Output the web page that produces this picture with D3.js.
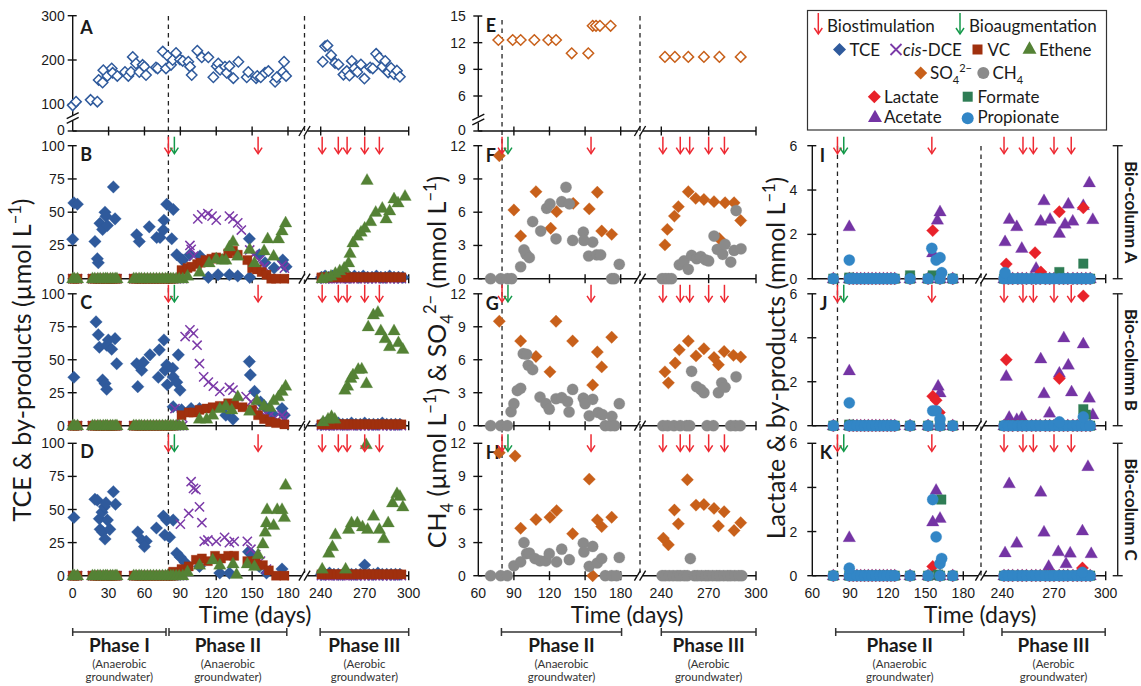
<!DOCTYPE html>
<html><head><meta charset="utf-8">
<script src="https://cdn.jsdelivr.net/npm/d3@7"></script>
<style>
html,body{margin:0;padding:0;background:#fff;}
svg{display:block;}
</style></head><body>
<svg id="chart" width="1141" height="686"></svg>
<script>
// ---------------- data ----------------
const biostimulationDays = [80, 155, 241, 252, 258, 270, 280];
const bioaugmentationDays = [85];
const phaseStartDay = 80;

const xTicksCol1 = [0, 30, 60, 90, 120, 150, 180, 240, 270, 300];
const xTicksCol23 = [60, 90, 120, 150, 180, 240, 270, 300];
const yTicksInfTCE = [0, 100, 200, 300];
const yTicksInfSulfate = [0, 6, 9, 12, 15];
const yTicksChlor = [0, 25, 50, 75, 100];
const yTicksSulfMeth = [0, 3, 6, 9, 12];
const yTicksAcids = [0, 2, 4, 6];

// sampling days with non-detect results (value 0)
const effDaysI = [0, 1.5, 4, 16.5, 18.5, 21, 23, 25.5, 27.5, 29, 31.5, 33.5, 35.5, 37, 51, 53, 55.5, 57.5, 60, 62.5, 65, 67.5, 70, 72.5, 75, 77.5];
const effDaysIIearly = [79.5, 82, 84, 86.5, 89, 92];
const effDaysIII = [240.5, 242.5, 244.5, 246.5, 249, 251, 253.5, 256, 258, 260, 262.5, 265, 267.5, 270, 272.5, 275, 277.5, 280, 282.5, 285, 287.5, 290, 292.5, 295];
const acidDaysII = [76.7, 89.4, 92.5, 95.5, 98.5, 101.5, 104.5, 107.5, 110.5, 113.5, 116.5, 119.5, 122.5, 125.5, 137.7, 152, 161.5, 171.6];
const acidDaysIII = [241, 243.5, 246, 249, 251.5, 254, 257, 259.5, 262, 265, 267.5, 270, 273, 275.5, 278, 281, 283.5, 286, 288.5, 291];

// Panel A: influent TCE (µmol/L)
const influentTCE = [[0,96],[2.8,106],[15,110],[20.6,106],[21.7,155],[25,149],[25.6,177],[29,164],[32.6,181],[33.4,171],[37.3,164],[43.7,173],[46.5,164],[48.7,173],[50.2,207],[52.9,192],[55.7,173],[58.5,189],[59.9,185],[61.3,166],[69.6,183],[71,181],[75.3,219],[78,181],[79.4,209],[82.2,189],[83.6,200],[86.4,216],[89.7,201],[92,198],[96.7,196],[98.1,185],[99.5,166],[104.2,221],[107.9,206],[113.4,206],[117.6,161],[120.4,186],[121.7,192],[123.2,178],[127.3,185],[128.7,171],[131,186],[134.3,159],[138.5,196],[145.5,161],[146.8,173],[153.3,159],[154.3,164],[157.2,161],[160.8,171],[163.6,175],[169.2,151],[170.6,161],[175.6,173],[176.7,196],[178.4,164],
  [241.4,196],[243,231],[244.6,233],[247.1,211],[249.8,193],[252.1,190],[255.5,167],[257.8,175],[259.6,165],[261.2,198],[263,181],[265,173],[267.4,190],[269.8,158],[273.7,183],[275.5,181],[277.8,214],[280,205],[282,185],[284,198],[286,172],[288,182],[290,168],[292,176],[294,162]];

// Panel B: Bio-column A, chlorinated ethenes (µmol/L)
const tceB = [[0,29.6],[1,57],[3.9,56],[18.6,28],[20.6,15],[21.4,12],[22.8,41.6],[25,37],[27,50],[27.8,47],[29,40],[34,69],[35.4,45],[53.5,33],[55.7,28],[64,39],[70.2,31],[73,31],[75.8,36.6],[76.3,44],[78.6,56],[82.8,30],[84.1,52],[87,18],[92,14],[98,18],[106.4,17],[113.4,1],[121.5,3],[131,3],[138,2],[147.7,30],[148,1],[156,18],[160.8,12],[168.4,8],[175.6,14],[178.4,9],
  [240.5,1],[243,2],[245.5,1],[248,2],[251,1],[254,2],[257,1],[260,1],[263,2],[266,1],[269,2],[272,1],[275,1],[278,2],[281,1],[284,1],[287,2],[290,1],[293,1],[296,1]];
const dceB = [[98,25],[99,22],[101,17],[104.6,45],[107.9,48],[113,49],[116.5,47],[120,44],[131,47],[134,45],[138,42],[141,36.6],[148,21.6],[151,18],[156,14],[160,9],[175,10],[177,8]];
const vcB = [[91,6.5],[96,8],[99,9],[104,11],[107,12],[111,14],[116,15],[120,16],[124,15],[130,19],[134,21],[138,18],[146,14],[150,8],[154,7],[158,5],[162,3],[166,0],[170,0],[177,0]];
const etheneB = [[96,2],[106,5],[114,12],[120,15],[125,14],[128,14],[131,24],[134,28],[138,17],[148,22],[152,12],[160,21],[163,30],[168,17],[172,30],[175,36],[178,42],
  [241,0],[244,1],[247,2],[250,4],[253,6],[256,8],[259,12],[260,19],[262,27],[265,32],[267.5,35],[270,38],[271.6,74],[274,43],[277.5,50],[282,53],[284.6,45],[287,51],[290,60],[292.7,57],[297.5,62]];

// Panel C: Bio-column B
const tceC = [[1,36.7],[19.5,78.7],[21.4,69],[22.3,59.5],[25,34.7],[27,32],[28.4,27.6],[28.4,61],[29.8,65],[32.6,58],[35.4,66],[36.8,47],[53.5,47],[54.4,29.6],[57.7,42],[59,48],[64.6,53.7],[71.6,36.7],[72.4,57.5],[76.3,65],[77.2,42],[78.6,46],[79.1,31],[83.6,43.6],[84,37],[88.3,53.7],[87,33],[89.7,27],[84,14.4],[91,12],[99,13],[106,13],[128,8],[134,5],[147.7,48.6],[148.5,38.5],[152,26],[157,18],[162,13],[167,9],[175,13],[177,8],[167,4],
  [240.5,1],[243,2],[246,1],[249,1],[252,2],[255,1],[258,1],[261,2],[264,1],[267,1],[270,2],[273,1],[276,1],[279,1],[282,2],[285,1],[288,1],[291,1],[294,1]];
const dceC = [[85.5,13],[91,7],[94,67.6],[98,72.7],[101,70],[104,61],[106,47],[109.5,37],[113.4,33],[117.6,30],[123,26],[131,29],[134,27],[145,22],[149,18],[156,12],[160,8],[164,7],[169,6],[175,8],[177,6]];
const vcC = [[91,8],[97,10],[101,10],[106,12],[112,13],[117,14],[123,15],[130,17],[135,16],[142,14],[150,12],[155,8],[160,5],[165,3],[170,2],[177,1]];
const etheneC = [[106,5],[112,5],[117,8],[123,13],[128,15],[133,12],[138,22],[148,11],[154,19],[160,15],[165,14],[168,19],[172,22],[175,26],[178,30],
  [241.6,3],[245,5],[247.4,7],[249.6,5],[256.5,27],[258.3,30],[260.5,36],[262,38.5],[265.6,42.7],[268,43],[271.2,32],[272.4,75],[275.9,84],[279,86],[281,72],[284,66],[287,60],[290,72],[293,63],[296,58]];

// Panel D: Bio-column C
const tceD = [[1,44],[18.6,57.7],[20.6,57],[22.3,43],[24.5,48],[26.5,52],[27.8,55],[23,35],[25,33],[27,27.7],[29,42],[31,35],[34,63.4],[35.8,54],[54.4,33],[57.7,27],[61.5,26],[60,22],[70,36],[75.8,45],[78.6,42],[77,30.7],[81,29],[84,42],[87,17],[90,14],[94,10],[106,7],[123,2],[131,2],[147,18],[150,16],[156,7],[162,2],[175,5],
  [240.5,1],[243,1],[246,2],[249,1],[252,1],[255,1],[258,2],[261,1],[264,1],[267,1],[270,8],[273,1],[276,1],[279,2],[282,1],[285,1],[288,1],[291,1],[294,1]];
const dceD = [[90,39],[97,47],[99,71],[101,66],[103,65],[106,52],[108,40],[110,26],[113,27],[120,26],[127,29],[131,25],[135,26],[146,26],[149,20],[153,16],[157,11],[162,5]];
const vcD = [[84,3],[91,5],[97,7],[103,12],[108,13],[113,11],[119,15],[124,13],[130,15],[135,15],[146,11],[153,11],[159,8],[164,4],[170,0],[177,0]];
const etheneD = [[96,3],[106,8],[117,12],[123,8],[134,9],[137,1],[146,9],[152,7],[155,16],[159,24],[161,33],[162,40],[162.5,50],[168,38],[171,50],[175,50],[177,44],[178,68.5],
  [241,5],[245.5,17],[248,22],[250,31],[257,5],[259,35],[261,40],[265,40],[268.5,37],[271,99],[272,35],[276,45],[280,35],[283,28],[286,40],[289,55],[292,62],[294,60],[296,52]];

// Panel E: influent sulfate (mmol/L)
const influentSulfate = [[76.9,12.3],[89,12.3],[95.7,12.3],[107.2,12.3],[119,12.3],[125.5,12.3],[138.7,10.8],[152.7,10.8],[156.4,13.9],[159.2,13.9],[162.5,13.9],[171.5,13.9],[242.3,10.4],[248.6,10.4],[257.1,10.4],[267,10.4],[276.8,10.4],[290.3,10.4]];

// Panels F-H: sulfate (mmol/L) and methane (µmol/L)
const sulfateF = [[77.7,11.1],[90,6.2],[95.7,3.85],[108.6,7.85],[121,4.55],[126,6.05],[140,6.8],[153.5,6.3],[160.3,7.8],[164,4.3],[172.4,4.0],[242.3,3.05],[243.8,4.45],[248.3,5.65],[250.8,6.5],[257.1,7.85],[261.8,7.25],[267,7.15],[273.4,6.95],[276.8,3.6],[280.4,6.85],[286.1,6.85],[290.3,5.25]];
const methaneF = [[70.4,0],[78.9,0],[84.5,0],[88.1,0],[95.7,1.08],[98.5,2.6],[100.2,2.2],[103,1.9],[105.8,5.15],[112.6,4.3],[117.6,6.35],[120.4,6.75],[125.5,3.6],[130.3,6.95],[133.9,8.25],[136.7,6.75],[139.5,3.45],[148.5,4.2],[149,3.45],[153,2.05],[156.4,3.3],[159.7,2.15],[163.1,2.15],[172.4,0],[174.6,0],[178.8,1.3],
  [240.5,0],[242.5,0],[244.5,0],[246.5,0],[251.4,1.25],[254.4,1.6],[257.1,0.85],[259.2,2.1],[262.4,1.8],[265,2.0],[267.9,1.7],[270,1.6],[273.4,3.85],[275.5,2.65],[278.9,2.2],[280.4,3.1],[284,1.5],[286.1,2.55],[287.4,6.15],[290.5,2.7]];
const sulfateG = [[77.7,9.5],[95.7,7.7],[108.6,6.3],[120.4,4.9],[125.5,9.5],[139.5,7.7],[156.4,3.7],[160.3,6.7],[164,5.35],[172.4,8.05],[242.3,4.9],[244.5,3.9],[248.8,5.7],[251.4,6.9],[257.1,7.7],[262,6.35],[267,7.0],[273.4,6.2],[276.2,5.55],[279.8,6.75],[285.7,6.4],[290.3,6.25]];
const methaneG = [[70.4,0],[78.9,0],[84.5,0],[87.6,1.27],[90,2.0],[92.9,3.2],[95.7,3.4],[97.9,6.55],[100.7,6.5],[102.1,5.5],[105.8,5.1],[112,2.6],[117,2.0],[119.8,1.5],[125.5,2.45],[130.3,2.55],[135.2,2.2],[136.5,1.25],[139.5,3.3],[148.5,2.5],[150,2.0],[153.5,0.9],[156.4,2.4],[161,1.2],[164.7,1.0],[167,0],[171.5,0],[172.6,0.85],[175,0],[178.8,2.0],
  [241,0],[244,0],[248,0],[252,0],[256,0],[258,0],[259.2,4.95],[262.4,3.55],[265,3.3],[267,3.0],[269,0],[273,0],[276.2,3.0],[278.3,3.9],[280.4,3.5],[284,0],[287.4,4.45],[287,0],[290,0]];
const sulfateH = [[77.7,11.15],[91,10.85],[95.7,4.3],[108.6,5.1],[120.4,5.3],[126,5.9],[139.5,3.8],[153.5,8.75],[156.4,0],[160.3,5.05],[164,4.45],[172.4,5.3],[241.3,3.4],[244.5,2.8],[248.3,5.95],[250.8,4.7],[256.5,8.7],[262,6.4],[267,6.45],[273.4,6.1],[276.2,4.5],[279.8,5.8],[286.1,4.1],[290.3,4.8]];
const methaneH = [[70.4,0],[78.9,0],[84.5,0],[90,0.9],[95.7,1.25],[98.5,3.0],[100.7,2.0],[103,2.05],[107.8,1.55],[112,1.35],[117,1.35],[119.8,2.0],[126,1.25],[130.3,2.4],[136.7,1.45],[148.5,2.95],[149,2.15],[153.5,0.85],[156.4,2.65],[160.3,1.15],[164,1.55],[167,0],[172.4,0],[176.5,0],[178.8,1.65],
  [240.5,0],[242.5,0],[245,0],[247.5,0],[250,0],[252,0],[254.5,0],[256.5,0],[258.4,1.55],[261,0],[263,0],[265.5,0],[268,0],[270,0],[272.5,0],[275,0],[277,0],[279.5,0],[282,0],[284,0],[286.5,0],[289,0],[291,0]];

// Panels I-K: lactate and fermentation products (mmol/L), non-zero results
const acetateI = [[89.4,2.35],[155.7,1.17],[159.4,2.65],[161.5,3.02],[241.6,1.67],[244.1,2.68],[248.4,2.35],[251.3,1.37],[259.6,0.47],[262.3,2.6],[264.2,3.52],[267.7,2.68],[273.1,2.05],[276.4,2.47],[278.3,3.37],[280.9,2.6],[287,3.3],[290.5,4.33],[292.5,2.67]];
const lactateI = [[155.7,2.17],[242.3,0.66],[259,1.17],[262.4,0.3],[273.1,3.02],[287,3.2]];
const formateI = [[89.4,0.05],[137.7,0.15],[155.7,0.15],[273.1,0.3],[287,0.68]];
const propionateI = [[89.4,0.84],[155,1.37],[158.4,0.84],[161.5,0.95],[162.8,0.27],[241.6,0.27]];
const acetateJ = [[89.4,2.5],[160,1.8],[161.5,1.5],[242.3,2.25],[244,0.38],[248.4,0.28],[251.3,0.38],[262.3,3.04],[264.2,1.46],[267.4,0.58],[273.1,2.39],[275.7,4.0],[278.3,2.76],[280.2,1.54],[287,3.72],[290.5,1.26],[292.5,0.5]];
const lactateJ = [[155.7,1.34],[158.4,1.16],[161,0.6],[242.3,3.0],[273.1,2.15],[287,5.9]];
const formateJ = [[89.4,0.05],[287,0.75],[288.5,0.5]];
const propionateJ = [[89.4,1.04],[155.7,0.68],[158.4,0.68],[161.5,0.3],[273.1,0.17],[287,0.4]];
const acetateK = [[89.4,1.73],[155.7,2.44],[158.4,3.87],[161.5,2.6],[241.6,1.04],[244,4.17],[248.4,1.48],[262.3,3.79],[264.2,1.98],[266.9,0.42],[272.5,1.09],[277,0.55],[279.4,1.03],[286.5,2.03],[289.7,4.95],[291.6,1.0]];
const lactateK = [[155.7,0.42],[286.5,0.35]];
const formateK = [[162.5,3.45],[160,0.05]];
const propionateK = [[89.4,0.34],[155.7,3.45],[158.4,1.76],[161.5,0.55],[162.8,0.78],[286.5,0.15]];

// ---------------- drawing ----------------
const W = 1141, H = 686;
const FONT_TICK = "'Liberation Sans', Arial, sans-serif";
const FONT_TEXT = "Lato, 'Open Sans', sans-serif";
const TICK_SIZE = 14;
const C = {
  tce: "#2f5a9c", dce: "#7b3aa8", vc: "#a0300e", ethene: "#548235",
  sulfate: "#c8601a", methane: "#8a8a8a",
  lactate: "#e8222a", formate: "#2f7d55", acetate: "#7434a4", propionate: "#3286c6",
  bioStim: "#ee2a33", bioAug: "#14994a", axis: "#111"
};

const nd = days => days.map(d => [d, 0]);

const svg = d3.select("#chart");
svg.append("rect").attr("width", W).attr("height", H).attr("fill", "#fff");

// marker shapes (centered at origin)
const shapes = {
  diamond: r => `M0,${-r}L${r},0L0,${r}L${-r},0Z`,
  triangle: s => { const h = s * 0.88; return `M0,${-h * 0.62}L${s / 2},${h * 0.38}L${-s / 2},${h * 0.38}Z`; },
  square: a => `M${-a},${-a}h${2 * a}v${2 * a}h${-2 * a}Z`,
  cross: a => `M${-a},${-a}L${a},${a}M${a},${-a}L${-a},${a}`,
  circle: r => d3.symbol(d3.symbolCircle, Math.PI * r * r)()
};

// column geometry: piecewise time scales with the axis break between 180 and 240 d
const columns = [
  { x: d3.scaleLinear().domain([0, 180, 240, 300]).range([72.7, 288, 320.7, 408.7]), breakX: 304.5, ticks: xTicksCol1, labelGap: 8 },
  { x: d3.scaleLinear().domain([60, 180, 240, 300]).range([478.3, 620.7, 661.3, 756]), breakX: 640, ticks: xTicksCol23, labelGap: 12.5 },
  { x: d3.scaleLinear().domain([60, 180, 240, 300]).range([812.3, 963.3, 1002.3, 1105.7]), breakX: 981, ticks: xTicksCol23, labelGap: 15 }
];
const rowBands = [[278.7, 145.7], [425.7, 293.8], [575.7, 443.3]];

function drawAxes(g, x, y, o) {
  const xa = x.range()[0], xe = x(300), y0 = y(0);
  const ax = g.append("g").attr("stroke", C.axis).attr("stroke-width", 1.4).attr("fill", "none");
  // x axis with break
  ax.append("line").attr("x1", xa).attr("x2", o.breakX - 3).attr("y1", y0).attr("y2", y0);
  ax.append("line").attr("x1", o.breakX + 3).attr("x2", xe).attr("y1", y0).attr("y2", y0);
  [-2.6, 2.6].forEach(dx => ax.append("line")
    .attr("x1", o.breakX + dx - 3).attr("y1", y0 + 5).attr("x2", o.breakX + dx + 3).attr("y2", y0 - 5));
  o.xTicks.forEach(t => {
    if (t === x.domain()[0]) return;
    ax.append("line").attr("x1", x(t)).attr("x2", x(t)).attr("y1", y0 - 4.5).attr("y2", y0 + 4.5);
  });
  // y axis (optionally broken)
  const yTop = y(o.yTicks[o.yTicks.length - 1]);
  if (o.yBreak) {
    ax.append("line").attr("x1", xa).attr("x2", xa).attr("y1", y0).attr("y2", o.yBreak + 3);
    ax.append("line").attr("x1", xa).attr("x2", xa).attr("y1", o.yBreak - 3).attr("y2", yTop);
    [-2.4, 2.4].forEach(dy => ax.append("line")
      .attr("x1", xa - 6).attr("y1", o.yBreak + dy + 3).attr("x2", xa + 6).attr("y2", o.yBreak + dy - 3));
  } else {
    ax.append("line").attr("x1", xa).attr("x2", xa).attr("y1", y0).attr("y2", yTop);
  }
  o.yTicks.forEach(t => {
    ax.append("line").attr("x1", xa - 5).attr("x2", xa + 4).attr("y1", y(t)).attr("y2", y(t));
    // the zero label of a broken (top-row) axis sits a touch higher, clear of the panel below
    const ly = y(t) - (o.yBreak && t === 0 ? 1.3 : 0);
    g.append("text").attr("x", xa - o.labelGap).attr("y", ly).attr("dy", "0.36em")
      .attr("text-anchor", "end").attr("font-family", FONT_TICK).attr("font-size", TICK_SIZE)
      .attr("fill", "#1a1a1a").text(t);
  });
  if (o.xLabels) {
    o.xTicks.forEach(t => g.append("text").attr("x", x(t)).attr("y", 597.5)
      .attr("text-anchor", "middle").attr("font-family", FONT_TICK).attr("font-size", TICK_SIZE)
      .attr("fill", "#1a1a1a").text(t));
  }
  g.append("text").attr("x", xa + 7.5).attr("y", o.letterY).attr("font-family", FONT_TEXT)
    .attr("font-weight", 700).attr("font-size", 18).attr("fill", "#1a1a1a").text(o.letter);
}

function drawSeries(g, x, y, data, s) {
  const sel = g.append("g");
  data.forEach(([d, v]) => {
    const p = sel.append("path").attr("d", shapes[s.shape](s.size))
      .attr("transform", `translate(${x(d).toFixed(2)},${y(v).toFixed(2)})`);
    if (s.shape === "cross") p.attr("fill", "none").attr("stroke", s.color).attr("stroke-width", 1.5);
    else if (s.open) p.attr("fill", "#fff").attr("stroke", s.color).attr("stroke-width", 1.5);
    else p.attr("fill", s.color).attr("stroke", s.color).attr("stroke-opacity", 0.35).attr("stroke-width", 0.8);
  });
}

function drawArrow(g, x, yTip, color, len) {
  g.append("line").attr("x1", x).attr("x2", x).attr("y1", yTip - len).attr("y2", yTip - 0.5)
    .attr("stroke", color).attr("stroke-width", 1.5);
  g.append("path").attr("d", `M${x - 4},${yTip - 6}L${x},${yTip}L${x + 4},${yTip - 6}`)
    .attr("fill", "none").attr("stroke", color).attr("stroke-width", 1.5);
}

const gMain = svg.append("g");

// dashed lines: start of phase II and the time-axis break
const dashTops = [[16, 16], [20, 16], [146, 146]];
columns.forEach((col, i) => {
  [col.x(phaseStartDay), col.breakX].forEach((xx, j) => {
    gMain.append("line").attr("x1", xx).attr("x2", xx).attr("y1", dashTops[i][j]).attr("y2", 576)
      .attr("stroke", "#222").attr("stroke-width", 1.3).attr("stroke-dasharray", "4.5,4");
  });
});

// --- Panel A ---
{
  const x = columns[0].x;
  const y = d3.scaleLinear().domain([0, 100, 300]).range([131, 104.3, 15.7]);
  const g = gMain.append("g");
  drawAxes(g, x, y, { breakX: columns[0].breakX, xTicks: xTicksCol1, yTicks: yTicksInfTCE, yBreak: 118, letter: "A", letterY: 34, labelGap: columns[0].labelGap });
  drawSeries(g, x, y, influentTCE, { shape: "diamond", size: 5.2, color: C.tce, open: true });
}
// --- Panel E ---
{
  const x = columns[1].x;
  const y = d3.scaleLinear().domain([0, 6, 15]).range([131, 96, 16]);
  const g = gMain.append("g");
  drawAxes(g, x, y, { breakX: columns[1].breakX, xTicks: xTicksCol23, yTicks: yTicksInfSulfate, yBreak: 119.5, letter: "E", letterY: 32, labelGap: columns[1].labelGap });
  drawSeries(g, x, y, influentSulfate, { shape: "diamond", size: 5.3, color: C.sulfate, open: true });
}

// --- Panels B, C, D ---
const chlorSets = [
  { tce: tceB, dce: dceB, vc: vcB, eth: etheneB, letter: "B" },
  { tce: tceC, dce: dceC, vc: vcC, eth: etheneC, letter: "C" },
  { tce: tceD, dce: dceD, vc: vcD, eth: etheneD, letter: "D" }
];
chlorSets.forEach((set, r) => {
  const x = columns[0].x;
  const y = d3.scaleLinear().domain([0, 100]).range(rowBands[r]);
  const g = gMain.append("g");
  drawAxes(g, x, y, { breakX: columns[0].breakX, xTicks: xTicksCol1, yTicks: yTicksChlor, letter: set.letter, letterY: rowBands[r][1] + 15, xLabels: r === 2, labelGap: columns[0].labelGap });
  drawSeries(g, x, y, set.tce, { shape: "diamond", size: 6.3, color: C.tce });
  drawSeries(g, x, y, [...nd(effDaysI), ...nd(effDaysIIearly), ...nd(effDaysIII), ...set.dce], { shape: "cross", size: 4.6, color: C.dce });
  drawSeries(g, x, y, [...nd(effDaysI), ...nd(effDaysIIearly.slice(0, 3)), ...nd(effDaysIII).map(([d]) => [d, 1]), ...set.vc], { shape: "square", size: 4.6, color: C.vc });
  drawSeries(g, x, y, [...nd(effDaysI), ...nd(effDaysIIearly), ...set.eth], { shape: "triangle", size: 12.5, color: C.ethene });
});

// --- Panels F, G, H ---
const smSets = [
  { s: sulfateF, m: methaneF, letter: "F" },
  { s: sulfateG, m: methaneG, letter: "G" },
  { s: sulfateH, m: methaneH, letter: "H" }
];
smSets.forEach((set, r) => {
  const x = columns[1].x;
  const y = d3.scaleLinear().domain([0, 12]).range(rowBands[r]);
  const g = gMain.append("g");
  drawAxes(g, x, y, { breakX: columns[1].breakX, xTicks: xTicksCol23, yTicks: yTicksSulfMeth, letter: set.letter, letterY: rowBands[r][1] + 16, xLabels: r === 2, labelGap: columns[1].labelGap });
  drawSeries(g, x, y, set.s, { shape: "diamond", size: 6.2, color: C.sulfate });
  drawSeries(g, x, y, set.m, { shape: "circle", size: 5.6, color: C.methane });
});

// --- Panels I, J, K ---
const acidSets = [
  { a: acetateI, l: lactateI, f: formateI, p: propionateI, letter: "I" },
  { a: acetateJ, l: lactateJ, f: formateJ, p: propionateJ, letter: "J" },
  { a: acetateK, l: lactateK, f: formateK, p: propionateK, letter: "K" }
];
const allAcidDays = [...acidDaysII, ...acidDaysIII];
acidSets.forEach((set, r) => {
  const x = columns[2].x;
  const y = d3.scaleLinear().domain([0, 6]).range(rowBands[r]);
  const g = gMain.append("g");
  drawAxes(g, x, y, { breakX: columns[2].breakX, xTicks: xTicksCol23, yTicks: yTicksAcids, letter: set.letter, letterY: rowBands[r][1] + 16, xLabels: r === 2, labelGap: columns[2].labelGap });
  drawSeries(g, x, y, [...nd(allAcidDays), ...set.a], { shape: "triangle", size: 12.5, color: C.acetate });
  drawSeries(g, x, y, [...nd(allAcidDays), ...set.l], { shape: "diamond", size: 6.2, color: C.lactate });
  drawSeries(g, x, y, [...nd(allAcidDays), ...set.f], { shape: "square", size: 4.8, color: C.formate });
  drawSeries(g, x, y, [...nd(allAcidDays), ...set.p], { shape: "circle", size: 5.6, color: C.propionate });

  // bio-column bracket
  const bx = 1117.7, [yb, yt] = rowBands[r];
  const bg = g.append("g").attr("stroke", "#222").attr("stroke-width", 1.4);
  bg.append("line").attr("x1", bx).attr("x2", bx).attr("y1", yt).attr("y2", yb);
  bg.append("line").attr("x1", bx - 5).attr("x2", bx + 5).attr("y1", yt).attr("y2", yt);
  bg.append("line").attr("x1", bx - 5).attr("x2", bx + 5).attr("y1", yb).attr("y2", yb);
  g.append("text").attr("transform", `translate(1125,${(yb + yt) / 2}) rotate(90)`)
    .attr("text-anchor", "middle").attr("font-family", FONT_TEXT).attr("font-weight", 700)
    .attr("font-size", 17).attr("fill", "#1a1a1a").text("Bio-column " + "ABC"[r]);
});

// --- treatment arrows ---
columns.forEach(col => {
  rowBands.forEach(([, top]) => {
    biostimulationDays.forEach(d => drawArrow(gMain, col.x(d), top + 8, C.bioStim, 17));
    bioaugmentationDays.forEach(d => drawArrow(gMain, col.x(d), top + 8, C.bioAug, 17));
  });
});

// --- axis titles ---
function rich(sel, parts, size) {
  let shift = 0;
  parts.forEach(p => {
    const target = p.s === "sub" ? 0.28 * size : p.s === "sup" ? -0.42 * size : 0;
    sel.append("tspan").attr("dy", (target - shift).toFixed(2))
      .attr("font-size", p.s ? size * 0.66 : size).text(p.t);
    shift = target;
  });
}
function yTitle(xp, yp, parts, size) {
  const t = gMain.append("text").attr("transform", `translate(${xp},${yp}) rotate(-90)`)
    .attr("text-anchor", "middle").attr("font-family", FONT_TEXT).attr("font-size", size).attr("fill", "#1a1a1a");
  rich(t, parts, size);
}
yTitle(31, 360, [{ t: "TCE & by-products (µmol L" }, { t: "−1", s: "sup" }, { t: ")" }], 25);
yTitle(446, 362, [{ t: "CH" }, { t: "4", s: "sub" }, { t: " (µmol L" }, { t: "−1", s: "sup" }, { t: ") & SO" }, { t: "4", s: "sub" }, { t: "2−", s: "sup" }, { t: " (mmol L" }, { t: "−1", s: "sup" }, { t: ")" }], 25);
yTitle(785, 358, [{ t: "Lactate & by-products (mmol L" }, { t: "−1", s: "sup" }, { t: ")" }], 25);

[255, 627, 980].forEach(cx => {
  gMain.append("text").attr("x", cx).attr("y", 623).attr("text-anchor", "middle")
    .attr("font-family", FONT_TEXT).attr("font-size", 23).attr("fill", "#1a1a1a").text("Time (days)");
});

// --- phase brackets ---
const phases = [
  { col: 0, from: 0, to: 78, name: "Phase I", note: ["(Anaerobic", "groundwater)"] },
  { col: 0, from: 80.5, to: 179, name: "Phase II", note: ["(Anaerobic", "groundwater)"] },
  { col: 0, from: 239, to: 300, name: "Phase III", note: ["(Aerobic", "groundwater)"] },
  { col: 1, from: 79.5, to: 181.3, name: "Phase II", note: ["(Anaerobic", "groundwater)"] },
  { col: 1, from: 240, to: 300, name: "Phase III", note: ["(Aerobic", "groundwater)"] },
  { col: 2, from: 78.6, to: 180.6, name: "Phase II", note: ["(Anaerobic", "groundwater)"] },
  { col: 2, from: 239.5, to: 299.7, name: "Phase III", note: ["(Aerobic", "groundwater)"] }
];
phases.forEach(p => {
  const x = columns[p.col].x, x1 = x(p.from), x2 = x(p.to), yb = 632;
  const g = gMain.append("g");
  const bl = g.append("g").attr("stroke", "#333").attr("stroke-width", 1.5);
  bl.append("line").attr("x1", x1).attr("x2", x2).attr("y1", yb).attr("y2", yb);
  bl.append("line").attr("x1", x1).attr("x2", x1).attr("y1", yb - 4).attr("y2", yb + 4);
  bl.append("line").attr("x1", x2).attr("x2", x2).attr("y1", yb - 4).attr("y2", yb + 4);
  const cx = (x1 + x2) / 2;
  g.append("text").attr("x", cx).attr("y", 652).attr("text-anchor", "middle")
    .attr("font-family", FONT_TEXT).attr("font-weight", 700).attr("font-size", 19)
    .attr("fill", "#1a1a1a").text(p.name);
  p.note.forEach((s, i) => g.append("text").attr("x", cx).attr("y", [667.5, 681.3][i])
    .attr("text-anchor", "middle").attr("font-family", FONT_TEXT).attr("font-size", 11.5)
    .attr("fill", "#333").text(s));
});

// --- legend ---
{
  const lg = gMain.append("g");
  lg.append("rect").attr("x", 807.5).attr("y", 10.5).attr("width", 299).attr("height", 119.5)
    .attr("fill", "#fff").attr("stroke", "#333").attr("stroke-width", 1.2);
  const txt = (x, y, parts) => {
    const t = lg.append("text").attr("x", x).attr("y", y).attr("font-family", FONT_TEXT)
      .attr("font-size", 17).attr("fill", "#1a1a1a");
    parts.forEach(p => {
      const ts = t.append("tspan").text(p.t);
      if (p.italic) ts.attr("font-style", "italic");
      if (p.s) ts.attr("font-size", 11).attr("dy", p.dy);
      else if (p.dy) ts.attr("dy", p.dy);
    });
  };
  const mk = (x, y, shape, size, color) => {
    const p = lg.append("path").attr("d", shapes[shape](size)).attr("transform", `translate(${x},${y})`);
    if (shape === "cross") p.attr("fill", "none").attr("stroke", color).attr("stroke-width", 1.8);
    else p.attr("fill", color);
  };
  drawArrow(lg, 818.3, 34, C.bioStim, 21);
  txt(827, 32, [{ t: "Biostimulation" }]);
  drawArrow(lg, 960, 34, C.bioAug, 21);
  txt(969, 32, [{ t: "Bioaugmentation" }]);
  mk(839.5, 49.5, "diamond", 6.5, C.tce); txt(849.5, 55.5, [{ t: "TCE" }]);
  mk(896, 49.5, "cross", 5.5, C.dce); txt(903, 55.5, [{ t: "cis", italic: true }, { t: "-DCE" }]);
  mk(977.5, 49.5, "square", 5, C.vc); txt(987.5, 55.5, [{ t: "VC" }]);
  mk(1029.5, 49, "triangle", 14, C.ethene); txt(1039, 55.5, [{ t: "Ethene" }]);
  mk(920.7, 73, "diamond", 6.5, C.sulfate); txt(930, 79, [{ t: "SO" }, { t: "4", s: true, dy: 4.5 }, { t: "2−", s: true, dy: -11.5 }]);
  mk(983.3, 73, "circle", 6, C.methane); txt(992.5, 79, [{ t: "CH" }, { t: "4", s: true, dy: 4.5 }]);
  mk(874.3, 96.7, "diamond", 6.5, C.lactate); txt(884, 102.7, [{ t: "Lactate" }]);
  mk(967.7, 96.7, "square", 5, C.formate); txt(977.5, 102.7, [{ t: "Formate" }]);
  mk(875, 117.4, "triangle", 14, C.acetate); txt(884, 123.2, [{ t: "Acetate" }]);
  mk(967.7, 118.3, "circle", 6, C.propionate); txt(977.5, 123.2, [{ t: "Propionate" }]);
}
</script></body></html>
